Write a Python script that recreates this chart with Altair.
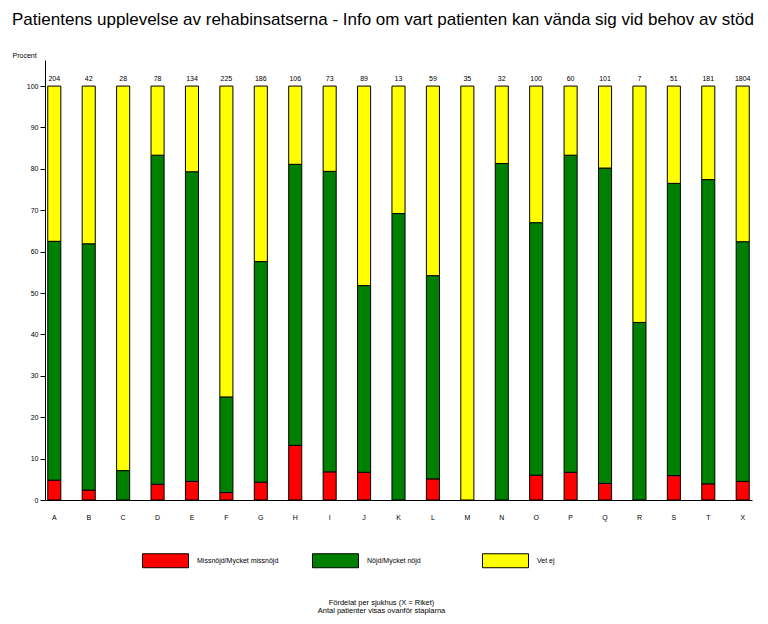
import altair as alt
import pandas as pd

categories = ["A", "B", "C", "D", "E", "F", "G", "H", "I", "J", "K",
              "L", "M", "N", "O", "P", "Q", "R", "S", "T", "X"]
counts = [204, 42, 28, 78, 134, 225, 186, 106, 73, 89, 13,
          59, 35, 32, 100, 60, 101, 7, 51, 181, 1804]
missnojd = [4.8, 2.4, 0.0, 3.8, 4.5, 1.8, 4.3, 13.2, 6.8, 6.7, 0.0,
            5.1, 0.0, 0.0, 6.0, 6.7, 4.0, 0.0, 5.9, 3.9, 4.5]
nojd = [57.7, 59.5, 7.1, 79.5, 74.8, 23.1, 53.3, 67.9, 72.6, 45.1, 69.2,
        49.1, 0.0, 81.3, 61.0, 76.6, 76.2, 42.9, 70.6, 73.5, 57.9]
vet_ej = [37.5, 38.1, 92.9, 16.7, 20.7, 75.1, 42.4, 18.9, 20.6, 48.2, 30.8,
          45.8, 100.0, 18.7, 33.0, 16.7, 19.8, 57.1, 23.5, 22.6, 37.6]

series_names = ["Missnöjd/Mycket missnöjd", "Nöjd/Mycket nöjd", "Vet ej"]
series_colors = ["#FF0000", "#008000", "#FFFF00"]

rows = []
for i, c in enumerate(categories):
    for k, vals in enumerate([missnojd, nojd, vet_ej]):
        rows.append({"cat": c, "serie": series_names[k], "ord": k, "val": vals[i]})
df = pd.DataFrame(rows)
df_counts = pd.DataFrame({"cat": categories, "n": counts})

FONT = "Liberation Sans"

x_scale = alt.Scale(domain=categories, paddingInner=0.62, paddingOuter=0.08)
y_scale = alt.Scale(domain=[0, 106.3], nice=False, zero=True)

bars = alt.Chart(df).mark_bar(stroke="black", strokeWidth=1).encode(
    x=alt.X("cat:N", scale=x_scale, sort=categories,
            axis=alt.Axis(title=["Fördelat per sjukhus (X = Riket)",
                                 "Antal patienter visas ovanför staplarna"],
                          labelAngle=0, tickSize=0, labelPadding=13,
                          labelFontSize=7, labelFont=FONT, labelColor="black",
                          domainColor="black", domainWidth=1,
                          titleFontSize=7.5, titleFont=FONT, titleFontWeight="normal",
                          titleColor="black", titleX=336, titleY=98,
                          titleBaseline="top", titleAlign="center", titleLineHeight=8)),
    y=alt.Y("val:Q", stack="zero", scale=y_scale,
            axis=alt.Axis(values=list(range(0, 101, 10)), title="Procent",
                          titleAngle=0, titleAlign="left", titleX=-33, titleY=-2,
                          titleBaseline="bottom", titleFontSize=7, titleFont=FONT,
                          titleFontWeight="normal", titleColor="black",
                          labelFontSize=7, labelFont=FONT, labelColor="black",
                          tickSize=5, tickColor="black", labelPadding=2,
                          domainColor="black", domainWidth=1, grid=False)),
    color=alt.Color("serie:N",
                    scale=alt.Scale(domain=series_names, range=series_colors),
                    legend=alt.Legend(title=None, orient="none", legendX=97, legendY=477,
                                      direction="horizontal", columns=3,
                                      symbolType="M-1,-0.304H1V0.304H-1Z", symbolSize=2116,
                                      symbolStrokeColor="black", symbolStrokeWidth=1,
                                      symbolOpacity=1, labelFontSize=7, labelFont=FONT,
                                      labelColor="black", labelOffset=8, columnPadding=31,
                                      gridAlign="all", labelLimit=200)),
    order=alt.Order("ord:Q"),
)

labels = alt.Chart(df_counts).mark_text(baseline="bottom", dy=-4, fontSize=7,
                                        font=FONT, color="black").encode(
    x=alt.X("cat:N", scale=x_scale, sort=categories),
    y=alt.datum(100),
    text="n:Q",
)

chart = alt.layer(bars, labels).properties(
    width=707, height=440,
    title=alt.TitleParams(
        "Patientens upplevelse av rehabinsatserna - Info om vart patienten kan vända sig vid behov av stöd",
        anchor="start", dx=0, offset=22, fontSize=17, font=FONT,
        fontWeight="normal", color="black"),
    autosize=alt.AutoSizeParams(type="none"),
    padding={"left": 37, "top": 52, "right": 8, "bottom": 116},
).configure_view(stroke=None)

chart.save("out.html", embed_options={"renderer": "svg", "actions": False})
